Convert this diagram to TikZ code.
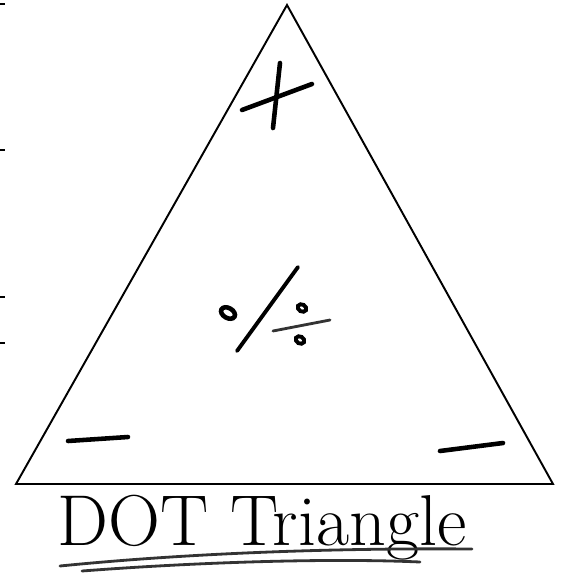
\documentclass[tikz,border=0pt]{standalone}
\usepackage{tikz}
\usetikzlibrary{positioning}

\begin{document}
\begin{tikzpicture}[x=0.02cm, y=-0.02cm,
  edge/.style={draw=black,line width=1.1pt,line join=miter},
  pen/.style={draw=black,line width=2.6pt,line cap=round},
  thinpen/.style={draw=black!80,line width=1.6pt,line cap=round},
  tickmark/.style={draw=black,line width=1.3pt},
  title/.style={font=\fontsize{41}{48}\selectfont,inner sep=0pt}
]
\useasboundingbox (0,0) rectangle (564,576);
% triangle corners
\coordinate (apex) at (287,5);
\coordinate (lft) at (16,484);
\coordinate (rgt) at (553,484);
\draw[edge] (apex) -- (lft) -- (rgt) -- cycle;

% marks at the left edge of the sheet
\foreach \y in {4,150,297,343}
  \draw[tickmark] (0,\y) -- (5,\y);

% plus at the top
\coordinate (p1) at (280,63);  \coordinate (p2) at (273,128);
\coordinate (p3) at (242,110); \coordinate (p4) at (312,84);
\draw[pen] (p1) -- (p2);
\draw[pen] (p3) -- (p4);

% minus at the two lower corners
\coordinate (m1) at (68,441);  \coordinate (m2) at (128,437);
\coordinate (m3) at (440,451); \coordinate (m4) at (503,443);
\draw[pen] (m1) -- (m2);
\draw[pen] (m3) -- (m4);

% dot, slash, divide sign in the middle
\coordinate (dl) at (228,313);
\coordinate (s1) at (298,267); \coordinate (s2) at (237,351);
\coordinate (du) at (302,308); \coordinate (dd) at (300,340);
\coordinate (b1) at (273,331); \coordinate (b2) at (330,320);
\draw[line width=2.6pt] (dl) ellipse [x radius=7.5, y radius=5, rotate=-30];
\draw[pen,line width=2.2pt] (s1) -- (s2);
\draw[line width=2.2pt] (du) ellipse [x radius=4.5, y radius=3.5, rotate=-30];
\draw[line width=2.2pt] (dd) ellipse [x radius=4.5, y radius=3.5, rotate=-30];
\draw[thinpen] (b1) -- (b2);

% title under the base
\node[title,anchor=base] (name) at (262,545) {DOT Triangle};
\coordinate (u1) at (60,566);  \coordinate (u2) at (472,549);
\coordinate (u3) at (82,571);  \coordinate (u4) at (420,562);
\draw[thinpen] (u1) .. controls (200,552) and (350,548) .. (u2);
\draw[thinpen] (u3) .. controls (200,562) and (330,558) .. (u4);
\end{tikzpicture}
\end{document}
